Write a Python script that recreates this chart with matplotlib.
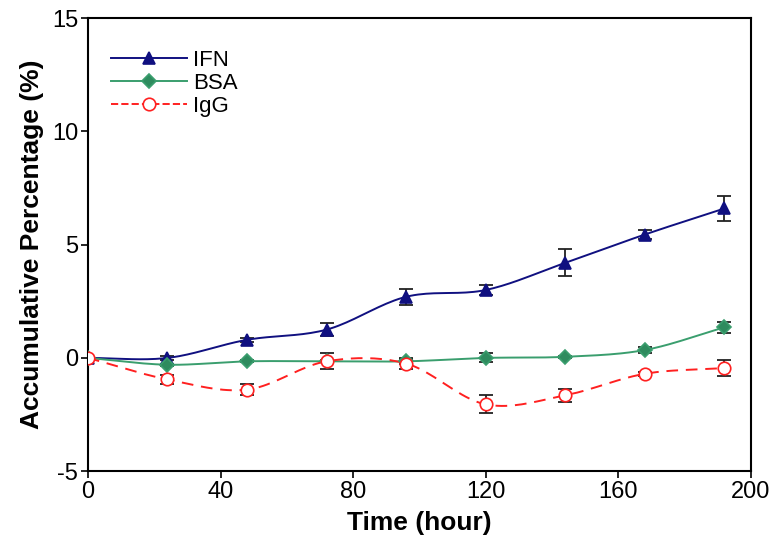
import numpy as np
import matplotlib.pyplot as plt

plt.rcParams['font.family'] = ['Liberation Sans', 'DejaVu Sans']
plt.rcParams['axes.unicode_minus'] = False

# data
time = [0, 24, 48, 72, 96, 120, 144, 168, 192]
ifn = [0.0, 0.0, 0.8, 1.25, 2.7, 3.0, 4.2, 5.45, 6.6]
ifn_err = [0.0, 0.1, 0.1, 0.3, 0.35, 0.2, 0.6, 0.2, 0.55]
bsa = [0.0, -0.3, -0.15, -0.15, -0.15, 0.0, 0.05, 0.35, 1.35]
bsa_err = [0.0, 0.05, 0.05, 0.05, 0.1, 0.2, 0.05, 0.15, 0.25]
igg = [0.0, -0.95, -1.4, -0.15, -0.25, -2.05, -1.65, -0.7, -0.45]
igg_err = [0.0, 0.2, 0.25, 0.35, 0.25, 0.4, 0.3, 0.1, 0.35]


def smooth(x, y, n=20):
    # catmull-rom curve through the points, only for drawing the line
    x = np.asarray(x, float)
    y = np.asarray(y, float)
    px = np.concatenate([[2 * x[0] - x[1]], x, [2 * x[-1] - x[-2]]])
    py = np.concatenate([[2 * y[0] - y[1]], y, [2 * y[-1] - y[-2]]])
    xs, ys = [], []
    t = np.linspace(0, 1, n, endpoint=False)
    for i in range(1, len(px) - 2):
        for p, out in ((px, xs), (py, ys)):
            p0, p1, p2, p3 = p[i - 1], p[i], p[i + 1], p[i + 2]
            out.extend(0.5 * (2 * p1 + (-p0 + p2) * t
                              + (2 * p0 - 5 * p1 + 4 * p2 - p3) * t ** 2
                              + (-p0 + 3 * p1 - 3 * p2 + p3) * t ** 3))
    xs.append(x[-1])
    ys.append(y[-1])
    return xs, ys


fig = plt.figure(figsize=(7.71, 5.53), dpi=100)
ax = fig.add_axes([0.114, 0.148, 0.860, 0.819])

series = [
    ('IFN', ifn, ifn_err, '#101080', '^', '#101080', '-'),
    ('BSA', bsa, bsa_err, '#3a9e6e', 'D', '#2e8b5e', '-'),
    ('IgG', igg, igg_err, '#ff2020', 'o', 'white', '--'),
]

for name, vals, err, col, mk, fc, ls in series:
    ax.errorbar(time, vals, yerr=err, fmt='none', ecolor='#222222',
                elinewidth=1.3, capsize=5, capthick=1.3, zorder=2)
    sx, sy = smooth(time, vals)
    ax.plot(sx, sy, color=col, lw=1.4, ls=ls, dashes=(6, 4) if ls == '--' else (None, None),
            zorder=3)
    ax.plot(time, vals, ls='none', marker=mk, ms=9 if mk != 'D' else 7,
            mfc=fc, mec=col, mew=1.2, zorder=4)
    ax.plot([], [], color=col, lw=1.4, ls=ls, marker=mk,
            ms=9 if mk != 'D' else 7, mfc=fc, mec=col, mew=1.2, label=name)

ax.set_xlim(0, 200)
ax.set_ylim(-5, 15)
ax.set_xticks([0, 40, 80, 120, 160, 200])
ax.set_yticks([-5, 0, 5, 10, 15])
ax.tick_params(direction='out', length=5, width=1.2, labelsize=17, pad=2)
for s in ax.spines.values():
    s.set_linewidth(1.5)

ax.set_xlabel('Time (hour)', fontsize=19, fontweight='bold', labelpad=6)
ax.set_ylabel('Accumulative Percentage (%)', fontsize=19, fontweight='bold', labelpad=6)

ax.legend(loc='upper left', bbox_to_anchor=(0.005, 0.975), frameon=False,
          fontsize=16, handlelength=3.4, labelspacing=0.1, handletextpad=0.3)

fig.savefig('out.png', dpi=100)
